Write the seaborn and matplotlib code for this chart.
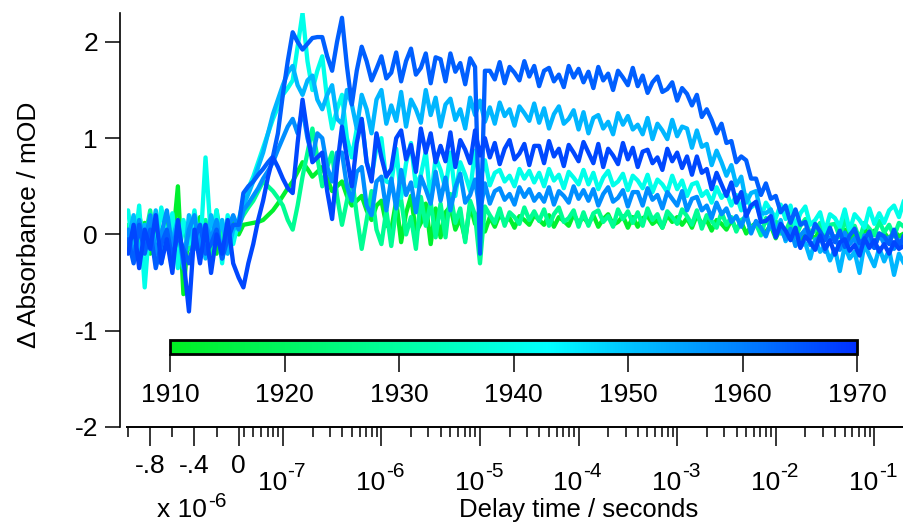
import numpy as np
import pandas as pd
import matplotlib
matplotlib.use("Agg")
import matplotlib.pyplot as plt
import seaborn as sns
from matplotlib.colors import LinearSegmentedColormap, Normalize
from matplotlib.cm import ScalarMappable
from matplotlib.ticker import FixedLocator, NullFormatter

sns.set_theme(style="white")
plt.rcParams.update({
    "font.family": ["Liberation Sans", "DejaVu Sans"],
    "axes.unicode_minus": False,
    "axes.edgecolor": "black",
    "xtick.color": "black",
    "ytick.color": "black",
    "text.color": "black",
})

# ---- delay grid -------------------------------------------------------------
# negative delays (microseconds), shown on a linear segment
PRE_US = [-1.0, -0.95, -0.9, -0.85, -0.8, -0.75, -0.7, -0.65, -0.6, -0.55,
          -0.5, -0.45, -0.4, -0.35, -0.3, -0.25, -0.2, -0.15, -0.1, -0.05, 0.0]
# positive delays as log10(seconds), shown on a logarithmic segment
POST_EXP = [-7.40, -7.35, -7.30, -7.25, -7.20, -7.15, -7.10, -7.05, -7.00, -6.95,
            -6.90, -6.85, -6.80, -6.75, -6.70, -6.65, -6.60, -6.55, -6.50, -6.45,
            -6.40, -6.35, -6.30, -6.25, -6.20, -6.15, -6.10, -6.05, -6.00, -5.95,
            -5.90, -5.85, -5.80, -5.75, -5.70, -5.65, -5.60, -5.55, -5.50, -5.45,
            -5.40, -5.35, -5.30, -5.25, -5.20, -5.15, -5.10, -5.05, -5.00, -4.95,
            -4.90, -4.85, -4.80, -4.75, -4.70, -4.65, -4.60, -4.55, -4.50, -4.45,
            -4.40, -4.35, -4.30, -4.25, -4.20, -4.15, -4.10, -4.05, -4.00, -3.95,
            -3.90, -3.85, -3.80, -3.75, -3.70, -3.65, -3.60, -3.55, -3.50, -3.45,
            -3.40, -3.35, -3.30, -3.25, -3.20, -3.15, -3.10, -3.05, -3.00, -2.95,
            -2.90, -2.85, -2.80, -2.75, -2.70, -2.65, -2.60, -2.55, -2.50, -2.45,
            -2.40, -2.35, -2.30, -2.25, -2.20, -2.15, -2.10, -2.05, -2.00, -1.95,
            -1.90, -1.85, -1.80, -1.75, -1.70, -1.65, -1.60, -1.55, -1.50, -1.45,
            -1.40, -1.35, -1.30, -1.25, -1.20, -1.15, -1.10, -1.05, -1.00, -0.95,
            -0.90, -0.85, -0.80, -0.75, -0.70]

# ---- transient absorption traces (mOD), one per year ------------------------
# first 21 values: negative delays; then one value per POST_EXP entry
YEARS = [1912, 1928, 1940, 1952, 1958, 1964, 1967]

DA_1912 = [-0.15, 0.05, -0.10, 0.12, -0.20, 0.08, -0.05, 0.15, -0.12, 0.50,
           -0.62, 0.10, -0.08, 0.18, -0.15, 0.05, -0.20, 0.10, -0.05, 0.12, 0.00,
           0.10, 0.11, 0.12, 0.13, 0.15, 0.20, 0.25, 0.32, 0.40, 0.48,
           0.55, 0.65, 0.75, 0.68, 0.60, 0.65, 0.70, 0.58, 0.45, 0.50,
           0.55, 0.40, 0.30, 0.35, 0.40, 0.25, 0.15, 0.30, 0.35, 0.10,
           0.05, 0.35, -0.08, 0.22, 0.40, 0.02, 0.12, 0.32, -0.10, 0.27,
           -0.03, 0.23, 0.29, 0.05, 0.17, -0.05, 0.31, 0.11, 0.27, 0.03,
           0.18, 0.08, 0.21, 0.13, 0.17, 0.07, 0.19, 0.15, 0.10, 0.20,
           0.15, 0.10, 0.20, 0.08, 0.18, 0.14, 0.09, 0.21, 0.12, 0.18,
           0.11, 0.20, 0.08, 0.16, 0.21, 0.10, 0.13, 0.19, 0.07, 0.18,
           0.08, 0.17, 0.19, 0.11, 0.15, 0.07, 0.20, 0.13, 0.18, 0.10,
           0.17, 0.07, 0.20, 0.11, 0.15, 0.04, 0.15, 0.11, 0.05, 0.15,
           0.05, 0.13, 0.01, 0.08, 0.12, 0.01, 0.03, 0.09, -0.04, 0.07,
           0.03, -0.02, 0.08, -0.05, 0.05, 0.01, -0.05, 0.07, -0.02, 0.04,
           -0.06, 0.03, 0.05, -0.04, 0.01, -0.07, 0.06, -0.01, 0.04, -0.04,
           0.02, -0.05, 0.04, -0.02, 0.01]

DA_1928 = [0.10, -0.15, 0.20, -0.05, 0.25, -0.20, 0.05, -0.10, 0.20, -0.25,
           0.10, -0.15, 0.22, -0.05, 0.15, -0.20, 0.25, -0.10, 0.15, -0.05, 0.10,
           0.20, 0.28, 0.35, 0.45, 0.55, 0.50, 0.45, 0.38, 0.30, 0.15,
           0.05, 0.30, 0.60, 0.85, 1.10, 0.80, 0.50, 0.70, 0.85, 0.40,
           0.10, 0.35, 0.60, 0.20, -0.15, 0.15, 0.45, 0.05, -0.10, 0.25,
           -0.12, 0.27, 0.36, 0.00, 0.18, -0.15, 0.39, 0.09, 0.33, -0.03,
           0.32, -0.03, 0.42, 0.12, 0.27, -0.08, 0.35, 0.20, -0.30, 0.29,
           0.20, 0.12, 0.27, 0.09, 0.23, 0.18, 0.11, 0.28, 0.15, 0.24,
           0.14, 0.26, 0.09, 0.21, 0.28, 0.13, 0.17, 0.25, 0.08, 0.23,
           0.09, 0.22, 0.25, 0.13, 0.19, 0.08, 0.26, 0.16, 0.24, 0.12,
           0.23, 0.09, 0.27, 0.15, 0.21, 0.07, 0.24, 0.18, 0.11, 0.26,
           0.19, 0.10, 0.25, 0.06, 0.20, 0.14, 0.07, 0.23, 0.10, 0.18,
           0.03, 0.15, 0.18, 0.05, 0.11, -0.01, 0.17, 0.06, 0.14, 0.01,
           0.03, 0.15, -0.03, 0.09, 0.16, 0.00, 0.04, 0.12, -0.05, 0.10,
           0.11, -0.03, 0.15, 0.03, 0.09, -0.05, 0.12, 0.06, -0.01, 0.14,
           0.02, 0.10, -0.02, 0.12, 0.08]

DA_1940 = [0.25, -0.20, 0.30, -0.55, 0.20, -0.15, 0.28, -0.05, 0.22, -0.35,
           0.15, -0.10, 0.25, -0.20, 0.80, -0.05, 0.25, -0.30, 0.20, -0.10, 0.15,
           0.35, 0.48, 0.60, 0.75, 0.90, 1.05, 1.20, 1.32, 1.45, 1.52,
           1.60, 1.95, 2.30, 1.80, 1.50, 1.70, 1.85, 1.40, 1.10, 1.30,
           1.45, 1.00, 0.80, 1.10, 1.20, 0.75, 0.60, 0.90, 1.00, 0.55,
           0.53, 0.89, 0.38, 0.74, 0.95, 0.50, 0.62, 0.86, 0.35, 0.80,
           0.67, 0.47, 0.85, 0.40, 0.75, 0.62, 0.45, 0.87, 0.55, 0.77,
           0.51, 0.64, 0.67, 0.55, 0.61, 0.50, 0.68, 0.58, 0.66, 0.54,
           0.64, 0.50, 0.68, 0.56, 0.62, 0.48, 0.65, 0.59, 0.52, 0.67,
           0.52, 0.64, 0.47, 0.59, 0.66, 0.51, 0.55, 0.63, 0.46, 0.61,
           0.56, 0.48, 0.62, 0.44, 0.57, 0.52, 0.44, 0.61, 0.47, 0.56,
           0.40, 0.52, 0.54, 0.40, 0.45, 0.33, 0.49, 0.38, 0.44, 0.30,
           0.41, 0.25, 0.41, 0.28, 0.32, 0.17, 0.33, 0.25, 0.17, 0.31,
           0.16, 0.30, 0.08, 0.22, 0.29, 0.10, 0.15, 0.23, 0.03, 0.21,
           0.17, 0.08, 0.26, 0.04, 0.21, 0.15, 0.07, 0.27, 0.11, 0.22,
           0.12, 0.25, 0.30, 0.18, 0.35]

DA_1952 = [-0.05, 0.20, -0.25, 0.10, -0.10, 0.25, -0.30, 0.05, -0.05, 0.15,
           -0.35, 0.20, -0.15, 0.10, -0.25, 0.20, -0.05, 0.15, -0.20, 0.05, 0.10,
           0.30, 0.42, 0.55, 0.70, 0.85, 1.05, 1.25, 1.40, 1.55, 1.68,
           1.75, 1.55, 1.45, 1.60, 1.65, 1.40, 1.30, 1.45, 1.55, 1.20,
           1.15, 1.50, 1.35, 1.10, 1.45, 1.30, 1.05, 1.40, 1.50, 1.15,
           1.34, 1.18, 1.48, 1.12, 1.40, 1.30, 1.16, 1.50, 1.24, 1.42,
           1.12, 1.35, 1.41, 1.19, 1.30, 1.10, 1.42, 1.24, 1.39, 1.17,
           1.32, 1.15, 1.37, 1.23, 1.30, 1.13, 1.33, 1.26, 1.18, 1.36,
           1.16, 1.31, 1.10, 1.25, 1.33, 1.15, 1.20, 1.29, 1.09, 1.27,
           1.05, 1.21, 1.24, 1.10, 1.17, 1.04, 1.26, 1.14, 1.23, 1.09,
           1.14, 1.04, 1.21, 0.99, 1.15, 1.08, 0.99, 1.19, 1.02, 1.12,
           1.10, 0.90, 1.08, 0.91, 0.94, 0.72, 0.87, 0.75, 0.61, 0.72,
           0.51, 0.60, 0.33, 0.43, 0.45, 0.22, 0.22, 0.26, 0.01, 0.15,
           -0.07, 0.05, 0.04, -0.12, -0.09, -0.25, -0.05, -0.18, -0.12, -0.27,
           -0.15, -0.38, -0.12, -0.25, -0.18, -0.40, -0.10, -0.22, -0.33, -0.14,
           -0.28, -0.16, -0.42, -0.20, -0.30]

DA_1958 = [0.05, -0.25, 0.15, -0.10, 0.20, -0.20, 0.00, 0.25, -0.15, 0.10,
           -0.30, 0.05, 0.20, -0.20, 0.10, -0.05, 0.15, -0.25, 0.05, 0.20, 0.05,
           0.25, 0.32, 0.40, 0.48, 0.58, 0.66, 0.75, 0.88, 1.00, 1.12,
           1.20, 1.05, 1.30, 1.00, 0.80, 1.05, 1.00, 0.70, 0.55, 0.85,
           0.85, 0.50, 0.35, 0.65, 0.70, 0.30, 0.20, 0.55, 0.60, 0.25,
           0.58, 0.27, 0.67, 0.41, 0.54, 0.23, 0.60, 0.47, 0.32, 0.65,
           0.35, 0.59, 0.25, 0.49, 0.63, 0.33, 0.41, 0.57, 0.23, 0.53,
           0.32, 0.45, 0.48, 0.36, 0.42, 0.31, 0.49, 0.39, 0.47, 0.35,
           0.42, 0.34, 0.49, 0.31, 0.45, 0.40, 0.33, 0.50, 0.37, 0.46,
           0.35, 0.47, 0.30, 0.42, 0.49, 0.34, 0.38, 0.46, 0.29, 0.44,
           0.44, 0.30, 0.48, 0.36, 0.41, 0.27, 0.44, 0.37, 0.30, 0.45,
           0.25, 0.37, 0.39, 0.25, 0.30, 0.17, 0.33, 0.21, 0.27, 0.13,
           0.19, 0.08, 0.22, 0.01, 0.14, 0.07, -0.02, 0.13, -0.01, 0.06,
           -0.05, 0.06, -0.12, -0.01, 0.05, -0.11, -0.08, -0.01, -0.18, -0.03,
           -0.02, -0.16, 0.02, -0.10, -0.04, -0.18, -0.01, -0.07, -0.14, 0.01,
           -0.10, -0.03, -0.15, -0.06, -0.09]

DA_1964 = [-0.05, -0.30, 0.10, -0.20, 0.05, -0.35, -0.10, 0.05, -0.25, 0.00,
           -0.15, -0.30, -0.05, 0.10, -0.20, -0.10, 0.05, -0.25, -0.05, 0.10, 0.10,
           0.43, 0.50, 0.55, 0.62, 0.68, 0.75, 0.81, 1.05, 1.45, 1.80,
           2.10, 2.00, 1.92, 1.98, 2.04, 2.05, 2.05, 1.85, 1.70, 2.00,
           2.25, 1.75, 1.35, 1.70, 1.95, 1.80, 1.60, 1.72, 1.85, 1.62,
           1.68, 1.89, 1.59, 1.80, 1.93, 1.66, 1.73, 1.88, 1.57, 1.84,
           1.82, 1.59, 1.88, 1.69, 1.78, 1.56, 1.83, 1.74, -0.20, 1.70,
           1.70, 1.61, 1.79, 1.57, 1.74, 1.68, 1.60, 1.80, 1.64, 1.75,
           1.54, 1.70, 1.73, 1.59, 1.66, 1.53, 1.75, 1.63, 1.72, 1.58,
           1.69, 1.52, 1.74, 1.60, 1.67, 1.50, 1.70, 1.63, 1.55, 1.73,
           1.54, 1.65, 1.47, 1.58, 1.64, 1.48, 1.51, 1.58, 1.39, 1.52,
           1.46, 1.34, 1.45, 1.22, 1.30, 1.19, 1.05, 1.15, 0.95, 0.97,
           0.75, 0.81, 0.77, 0.58, 0.58, 0.41, 0.53, 0.37, 0.40, 0.23,
           0.30, 0.12, 0.26, 0.10, 0.13, -0.04, 0.11, 0.03, -0.06, 0.07,
           -0.08, 0.04, -0.13, -0.01, 0.06, -0.09, -0.05, 0.03, -0.14, 0.01,
           -0.02, -0.10, 0.05, -0.13, -0.01]

DA_1967 = [-0.20, 0.10, -0.35, 0.05, -0.15, 0.20, -0.30, -0.05, -0.40, 0.15,
           -0.25, -0.80, 0.05, -0.30, 0.10, -0.40, 0.00, -0.20, 0.15, -0.30, -0.45,
           -0.55, -0.30, -0.10, 0.15, 0.35, 0.60, 0.80, 0.70, 0.58, 0.48,
           0.43, 0.95, 1.40, 1.05, 0.75, 0.80, 0.85, 0.45, 0.16, 0.70,
           1.12, 0.80, 0.50, 0.95, 1.20, 0.75, 0.55, 1.05, 0.80, 0.60,
           0.68, 1.00, 1.08, 0.78, 0.93, 0.65, 1.10, 0.85, 1.05, 0.75,
           0.92, 0.76, 1.06, 0.70, 0.98, 0.88, 0.74, 1.08, 0.82, 1.00,
           0.80, 0.95, 0.73, 0.89, 0.98, 0.78, 0.84, 0.94, 0.72, 0.92,
           0.92, 0.74, 0.97, 0.81, 0.89, 0.71, 0.93, 0.85, 0.76, 0.96,
           0.85, 0.74, 0.94, 0.70, 0.89, 0.82, 0.73, 0.95, 0.78, 0.90,
           0.70, 0.86, 0.88, 0.74, 0.80, 0.67, 0.89, 0.76, 0.85, 0.69,
           0.81, 0.62, 0.81, 0.64, 0.68, 0.47, 0.64, 0.52, 0.40, 0.54,
           0.33, 0.44, 0.19, 0.30, 0.34, 0.13, 0.14, 0.19, -0.03, 0.11,
           0.04, -0.06, 0.07, -0.14, -0.02, -0.08, -0.16, -0.01, -0.15, -0.06,
           -0.21, -0.08, -0.05, -0.17, -0.11, -0.22, -0.04, -0.14, -0.06, -0.18,
           -0.10, -0.20, -0.08, -0.15, -0.12]

TRACES = [DA_1912, DA_1928, DA_1940, DA_1952, DA_1958, DA_1964, DA_1967]

# colour scale for the year
CBAR_TICKS = [1910, 1920, 1930, 1940, 1950, 1960, 1970]
CMAP_STOPS = [(0.0, "#00ee22"), (0.333, "#00ffa0"), (0.55, "#00ffff"),
              (0.667, "#00c4ff"), (0.833, "#0080ff"), (1.0, "#0030ff")]

# x tick labels
LIN_TICKS_US = [-0.8, -0.4, 0.0]
LIN_LABELS = ["-.8", "-.4", "0"]
LOG_DECADES = [-7, -6, -5, -4, -3, -2, -1]

# ---- assemble long table ----------------------------------------------------
times = np.concatenate([np.array(PRE_US) * 1e-6, 10.0 ** np.array(POST_EXP)])
frames = []
for yr, vals in zip(YEARS, TRACES):
    frames.append(pd.DataFrame({"t": times, "dA": np.array(vals, float), "year": yr}))
df = pd.concat(frames, ignore_index=True)

cmap = LinearSegmentedColormap.from_list("green_cyan_blue", CMAP_STOPS)
norm = Normalize(vmin=CBAR_TICKS[0], vmax=CBAR_TICKS[-1])

# ---- split linear / logarithmic delay axis ----------------------------------
K_LIN = 1.122e6      # axis units per second on the negative (linear) segment
T0 = 3.57e-8         # delay that sits at the join with the log segment
EPS = 1e-4


def fwd(t):
    t = np.asarray(t, float)
    lin = t * K_LIN
    mid = EPS * t / T0
    lg = EPS + np.log10(np.maximum(t, T0) / T0)
    return np.where(t <= 0, lin, np.where(t < T0, mid, lg))


def inv(u):
    u = np.asarray(u, float)
    lin = u / K_LIN
    mid = u / EPS * T0
    lg = T0 * 10.0 ** (np.minimum(u, 50) - EPS)
    return np.where(u <= 0, lin, np.where(u < EPS, mid, lg))


W, H = 904, 523
FS = 19          # main text size
FS_EXP = 15      # exponent size
fig = plt.figure(figsize=(W / 100, H / 100), dpi=100)
ax = fig.add_axes([127 / W, 96 / H, 777 / W, 414 / H])

sns.lineplot(data=df, x="t", y="dA", hue="year", palette=cmap, hue_norm=norm,
             units="year", estimator=None, sort=False, legend=False,
             lw=3.1, ax=ax)

ax.set_xscale("function", functions=(fwd, inv))
ax.set_xlim(-1.01e-6, 0.2)
ax.set_ylim(-2, 2.3)

log_major = [10.0 ** d for d in LOG_DECADES]
major = [v * 1e-6 for v in LIN_TICKS_US] + log_major
minor = [-1.0e-6, -0.6e-6, -0.2e-6]
for d in range(-8, 0):
    for k in range(2, 10):
        v = k * 10.0 ** d
        if T0 < v < 0.2:
            minor.append(v)
ax.xaxis.set_major_locator(FixedLocator(major))
ax.xaxis.set_minor_locator(FixedLocator(minor))
# linear-segment labels come from the tick machinery; the decade labels
# ("10" plus a raised exponent) sit a little lower below their own ticks
ax.set_xticklabels(LIN_LABELS + [""] * len(LOG_DECADES))
ax.xaxis.set_minor_formatter(NullFormatter())
for v, d in zip(log_major, LOG_DECADES):
    ax.annotate("10", xy=(v, 0), xycoords=("data", "axes fraction"),
                xytext=(3.0, -31.5), textcoords="offset points",
                ha="right", va="top", fontsize=FS, annotation_clip=False)
    ax.annotate("%d" % d, xy=(v, 0), xycoords=("data", "axes fraction"),
                xytext=(3.4, -25.0), textcoords="offset points",
                ha="left", va="top", fontsize=FS_EXP, annotation_clip=False)

ax.set_yticks([-2, -1, 0, 1, 2])
ax.set_yticklabels(["-2", "-1", "0", "1", "2"])

for s in ("top", "right"):
    ax.spines[s].set_visible(False)
ax.spines["left"].set_position(("outward", 5))
ax.spines["left"].set_linewidth(1.2)
ax.spines["bottom"].set_linewidth(1.4)
ax.set_xlabel("")
ax.set_ylabel("")

ax.tick_params(axis="x", which="major", direction="out", length=13.7, width=1.1,
               labelsize=FS, bottom=True, pad=5.5)
ax.tick_params(axis="x", which="minor", direction="out", length=7.2, width=1.1,
               bottom=True)
ax.tick_params(axis="y", which="major", direction="out", length=10.8, width=1.1,
               labelsize=FS, pad=5, left=True)

fig.text(29 / W, 1 - 225 / H, "Δ Absorbance / mOD", rotation=90,
         ha="center", va="center", fontsize=19)
fig.text(579 / W, 6 / H, "Delay time / seconds", ha="center", va="baseline",
         fontsize=18.5)
# scale note for the linear segment: "x 10" with a raised "-6"
fig.text(207 / W, 6 / H, "x 10", ha="right", va="baseline", fontsize=FS)
fig.text(208 / W, 1 - 492 / H, "-6", ha="left", va="top", fontsize=FS_EXP)

# ---- colour bar for the year ------------------------------------------------
cax = fig.add_axes([170 / W, (H - 354) / H, 687 / W, 14 / H])
sm = ScalarMappable(norm=norm, cmap=cmap)
cb = fig.colorbar(sm, cax=cax, orientation="horizontal", ticks=CBAR_TICKS)
cb.minorticks_off()
cb.outline.set_linewidth(2.0)
cb.outline.set_edgecolor("black")
cax.tick_params(direction="out", length=13, width=1.1, pad=8, labelsize=FS,
                color="black")

fig.savefig("out.png", dpi=100)
